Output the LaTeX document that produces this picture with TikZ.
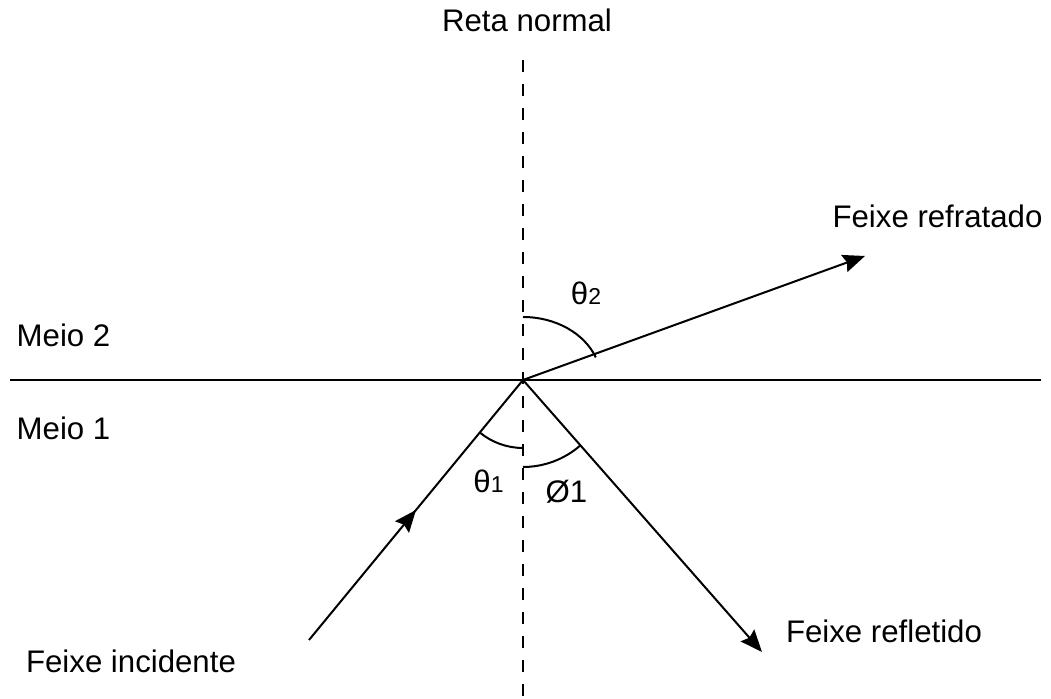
\documentclass[tikz,border=0pt]{standalone}
\usepackage{fontspec}
\setmainfont{Liberation Sans}
\usetikzlibrary{arrows.meta, decorations.markings}

\tikzset{
  ray/.style={line width=1pt, -{Stealth[length=11pt,width=9pt,inset=1.5pt]}},
  midray/.style={line width=1pt, postaction={decorate},
    decoration={markings, mark=at position 0.5 with {\arrow{Stealth[length=11pt,width=9pt,inset=1.5pt]}}}},
  normalline/.style={line width=1pt, dash pattern=on 6pt off 6pt},
  txt/.style={font=\fontsize{15.6}{18}\selectfont, inner sep=0pt, anchor=base},
  anglearc/.style={line width=1pt}
}
\newcommand{\sub}[1]{{\fontsize{11.5}{12}\selectfont #1}}

\begin{document}
\begin{tikzpicture}[x=0.5pt, y=-0.5pt]
  \useasboundingbox (0,0) rectangle (1051,699);

  % Points
  \coordinate (O) at (523,380);
  \coordinate (ntop) at (523,60);
  \coordinate (nbot) at (523,699);
  \coordinate (sl) at (10,380);
  \coordinate (sr) at (1041,380);
  \coordinate (inc) at (309,640);
  \coordinate (refl) at (762,652);
  \coordinate (refr) at (865,256);

  % Normal line and surface
  \draw[normalline] (ntop) -- (nbot);
  \draw[line width=1pt] (sl) -- (sr);

  % Rays
  \draw[midray] (inc) -- (O);
  \draw[ray] (O) -- (refl);
  \draw[ray] (O) -- (refr);

  % Angles
  \draw[anglearc] (O) ++(230.5:34pt) arc[start angle=230.5, end angle=270, radius=34pt];
  \draw[anglearc] (O) ++(270:43.5pt) arc[start angle=270, end angle=311.3, radius=43.5pt];
  \draw[anglearc] (O) ++(0,-63) arc[start angle=90, end angle=21, x radius=39pt, y radius=31.5pt];

  % Labels
  \node[txt] (reta) at (527,31.5) {Reta normal};
  \node[txt] (meio2) at (63.5,347) {Meio 2};
  \node[txt] (meio1) at (63.5,440) {Meio 1};
  \node[txt] (refrtxt) at (937.5,228) {Feixe refratado};
  \node[txt] (refltxt) at (884,643) {Feixe refletido};
  \node[txt] (inctxt) at (131,673) {Feixe incidente};
  \node[txt] (th1) at (488.5,493) {θ\sub{1}};
  \node[txt] (th2) at (586,305) {θ\sub{2}};
  \node[txt] (phi1) at (566.5,503) {Ø1};
\end{tikzpicture}
\end{document}
